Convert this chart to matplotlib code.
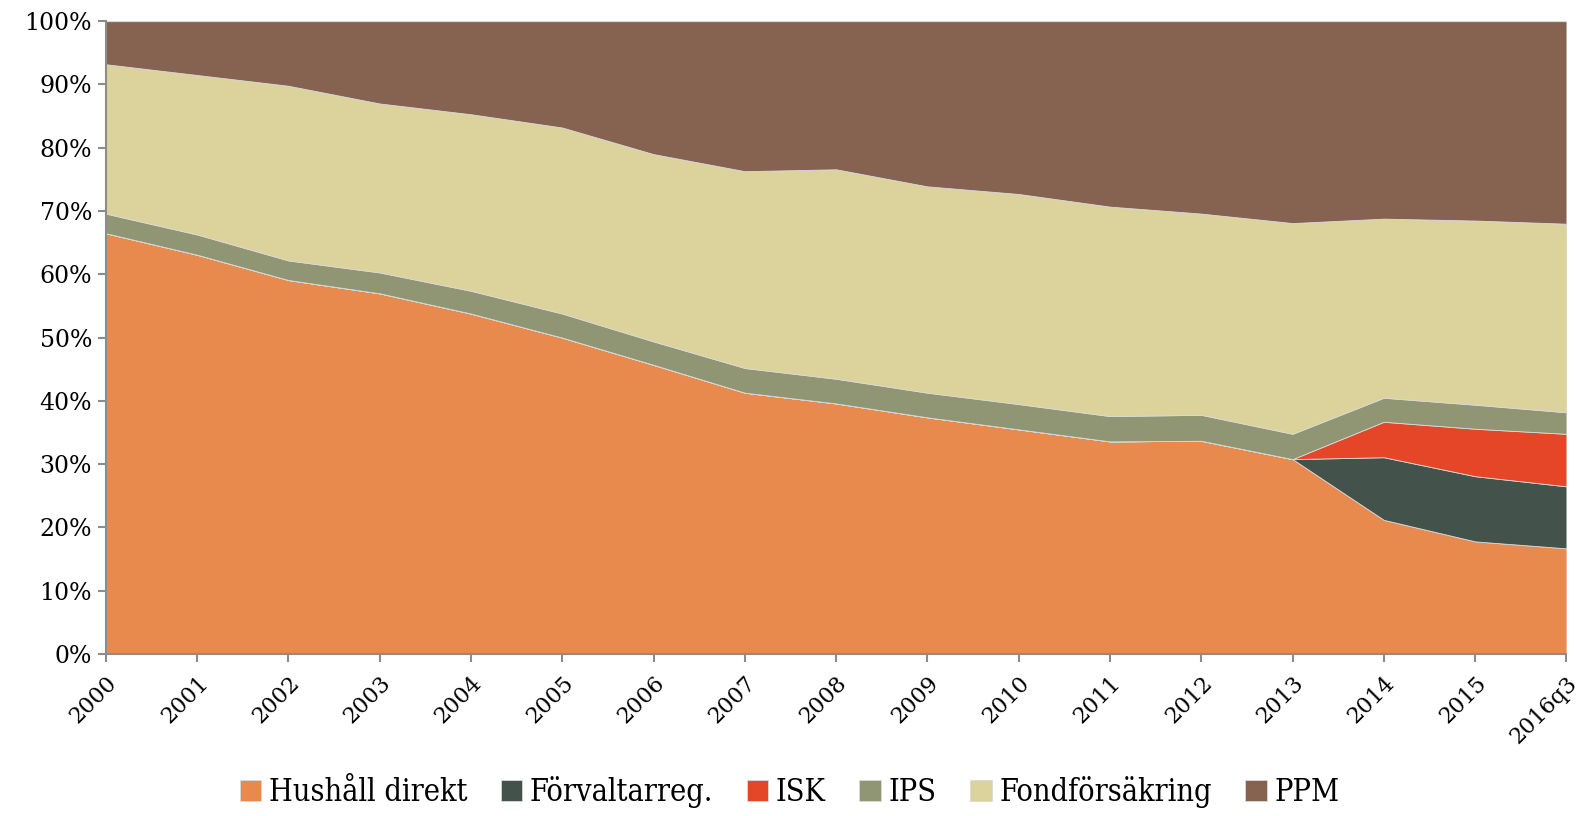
import matplotlib
matplotlib.use("Agg")
import matplotlib.pyplot as plt
import numpy as np

years = ["2000", "2001", "2002", "2003", "2004", "2005", "2006", "2007", "2008",
         "2009", "2010", "2011", "2012", "2013", "2014", "2015", "2016q3"]

hushall = [66.5, 63.1, 59.1, 57.0, 53.8, 50.0, 45.7, 41.3, 39.6, 37.4, 35.5, 33.6, 33.7, 30.8, 21.2, 17.8, 16.7]
forvaltarreg = [0, 0, 0, 0, 0, 0, 0, 0, 0, 0, 0, 0, 0, 0, 9.9, 10.3, 9.8]
isk = [0, 0, 0, 0, 0, 0, 0, 0, 0, 0, 0, 0, 0, 0, 5.6, 7.5, 8.3]
ips = [3.1, 3.2, 3.1, 3.3, 3.6, 3.8, 3.7, 3.9, 3.9, 3.9, 4.0, 4.0, 4.1, 4.0, 3.8, 3.8, 3.4]
fondforsakring = [23.6, 25.2, 27.6, 26.7, 27.9, 29.4, 29.6, 31.1, 33.1, 32.6, 33.2, 33.1, 31.8, 33.3, 28.3, 29.1, 29.8]
ppm = [6.8, 8.5, 10.2, 13.0, 14.7, 16.8, 21.0, 23.7, 23.4, 26.1, 27.3, 29.3, 30.4, 31.9, 31.2, 31.5, 32.0]

labels = ["Hushåll direkt", "Förvaltarreg.", "ISK", "IPS", "Fondförsäkring", "PPM"]
colors = ["#E8894E", "#43524A", "#E64628", "#909674", "#DCD29B", "#866350"]

data = np.array([hushall, forvaltarreg, isk, ips, fondforsakring, ppm], dtype=float)
data = data / data.sum(axis=0) * 100.0

fig = plt.figure(figsize=(15.79, 8.16), dpi=100)
ax = fig.add_axes([0.067, 0.1985, 0.925, 0.7755])

x = np.arange(len(years))
ax.stackplot(x, data, colors=colors, labels=labels, linewidth=0.6, edgecolor="#d9d9d9")

ax.set_xlim(0, len(years) - 1)
ax.set_ylim(0, 100)
ax.set_yticks(np.arange(0, 101, 10))
ax.set_yticklabels([f"{v}%" for v in range(0, 101, 10)], fontsize=17, family="DejaVu Serif")
ax.set_xticks(x)
ax.set_xticklabels(years, rotation=45, ha="right", rotation_mode="anchor",
                   fontsize=16, family="DejaVu Serif")

for s in ["top", "right"]:
    ax.spines[s].set_visible(False)
for s in ["left", "bottom"]:
    ax.spines[s].set_color("#8c8c8c")
    ax.spines[s].set_linewidth(1.5)
ax.tick_params(axis="both", colors="#8c8c8c", length=6, width=1.5, labelcolor="black")
ax.tick_params(axis="x", pad=7)
ax.tick_params(axis="y", pad=4)

handles, lbls = ax.get_legend_handles_labels()
fig.legend(handles, lbls, loc="lower center", bbox_to_anchor=(0.5, -0.024), ncol=6,
           frameon=False, prop={"family": "DejaVu Serif", "size": 22, "stretch": "condensed"},
           handlelength=0.7, handleheight=0.7, handletextpad=0.25, columnspacing=1.1)

fig.savefig("out.png", dpi=100)
